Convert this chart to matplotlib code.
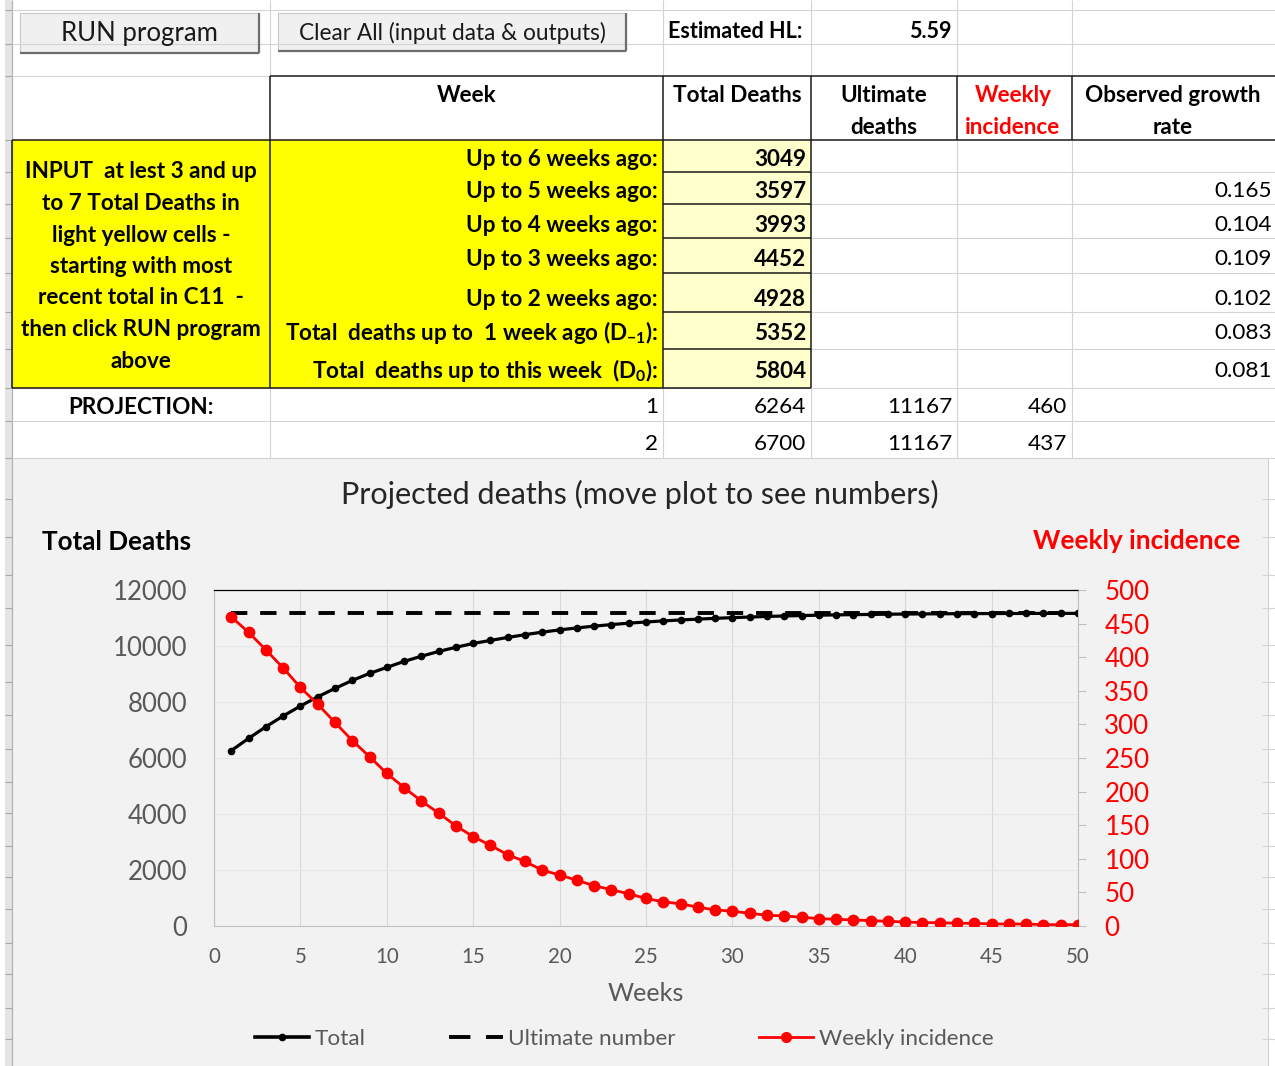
import matplotlib.pyplot as plt
import matplotlib.patches as mpatches
from matplotlib.lines import Line2D

plt.rcParams['font.family'] = ['Lato', 'DejaVu Sans']
plt.rcParams['mathtext.fontset'] = 'custom'
plt.rcParams['mathtext.rm'] = 'Lato:bold'
plt.rcParams['mathtext.bf'] = 'Lato:bold'
plt.rcParams['mathtext.it'] = 'Lato:bold'

# ---- sheet data ----
estimated_hl = 5.59
input_labels = ['Up to 6 weeks ago:', 'Up to 5 weeks ago:', 'Up to 4 weeks ago:',
                'Up to 3 weeks ago:', 'Up to 2 weeks ago:',
                r'Total  deaths up to  1 week ago (D$_{\mathrm{-1}}$):',
                r'Total  deaths up to this week  (D$_{\mathrm{0}}$):']
input_totals = [3049, 3597, 3993, 4452, 4928, 5352, 5804]
growth_rates = [None, 0.165, 0.104, 0.109, 0.102, 0.083, 0.081]
instructions = ['INPUT  at lest 3 and up', 'to 7 Total Deaths in', 'light yellow cells -',
                'starting with most', 'recent total in C11  -', 'then click RUN program', 'above']
ultimate_deaths = 11167

# ---- projection ----
weeks = list(range(1, 51))
total_deaths = [6264, 6700, 7115, 7500, 7855, 8185, 8485, 8770, 9020, 9235,
                9450, 9635, 9805, 9955, 10090, 10200, 10305, 10405, 10495, 10575,
                10645, 10710, 10765, 10815, 10858, 10895, 10930, 10960, 10988, 11012,
                11035, 11055, 11072, 11087, 11100, 11111, 11120, 11128, 11135, 11141,
                11146, 11150, 11154, 11157, 11159, 11161, 11163, 11164, 11165, 11166]
weekly_incidence = [460, 437, 411, 384, 355, 330, 303, 276, 252, 227,
                    206, 186, 168, 149, 133, 120, 106, 96, 83, 76,
                    68, 60, 54, 48, 41, 36, 33, 28, 24, 22,
                    19, 16, 15, 13, 11, 10, 9, 8, 7, 6,
                    5, 5, 4, 4, 3, 3, 3, 2, 2, 2]

W, H = 1275, 1066
fig = plt.figure(figsize=(W / 100, H / 100), dpi=100)
fig.patch.set_facecolor('white')

# sheet drawn in pixel coordinates
bg = fig.add_axes([0, 0, 1, 1])
bg.set_xlim(0, W)
bg.set_ylim(H, 0)
bg.axis('off')

GRID = '#d4d4d4'


def hline(y, x0, x1, c=GRID, lw=0.8):
    bg.plot([x0, x1], [y, y], color=c, lw=lw, solid_capstyle='butt')


def vline(x, y0, y1, c=GRID, lw=0.8):
    bg.plot([x, x], [y0, y1], color=c, lw=lw, solid_capstyle='butt')


def box(x0, y0, x1, y1, fc, ec='none', lw=0.8):
    bg.add_patch(mpatches.Rectangle((x0, y0), x1 - x0, y1 - y0, facecolor=fc,
                                    edgecolor=ec, lw=lw))


cols = [12, 270, 663, 811, 957, 1072, 1275]
rows = [10, 44, 76, 140, 172, 204, 238, 273, 312, 349, 388, 421, 458]

# row header strip
box(5, 0, 12, H, '#e4e4e4')
vline(12, 0, H, '#b4b4b4', 0.9)
chart_rows = [499, 537, 575, 608, 645, 682, 715, 749, 782, 813, 846, 877, 909, 943, 974, 1008, 1039]
for y in rows + chart_rows:
    hline(y, 5, 12, '#a8a8a8', 0.8)

# light grid of the sheet (top rows)
for y in rows[:2]:
    hline(y, 12, W)
hline(76, 12, 270)
for x in cols[1:6]:
    vline(x, 0, 76)

# yellow block
box(12, 140, 270, 388, '#ffff00')
box(270, 140, 663, 388, '#ffff00')
for r0, r1 in zip(rows[3:10], rows[4:11]):
    box(663, r0, 811, r1, '#ffffcc')

# light grid of white cells
for y in rows[4:10]:
    hline(y, 811, W)
for y in rows[10:]:
    hline(y, 12, W)
for x in cols[4:6]:
    vline(x, 140, 458)
for x in cols[1:4]:
    vline(x, 388, 458)

# black borders
BL = '#1a1a1a'
hline(76, 270, W, BL, 1.1)
hline(140, 12, W, BL, 1.1)
for x in cols[1:6]:
    vline(x, 76, 140, BL, 1.1)
vline(12, 140, 388, BL, 1.1)
vline(270, 140, 388, BL, 1.1)
vline(663, 140, 388, BL, 1.1)
vline(811, 140, 388, BL, 1.1)
hline(388, 12, 811, BL, 1.1)
for y in rows[4:10]:
    hline(y, 663, 811, BL, 1.1)


# buttons
def button(x0, y0, x1, y1, label, size):
    box(x0, y0, x1, y1, '#f0f0f0', '#c8c8c8', 0.8)
    hline(y1, x0, x1, '#6e6e6e', 1.6)
    vline(x1, y0, y1, '#6e6e6e', 1.6)
    bg.text((x0 + x1) / 2, (y0 + y1) / 2 + 1, label, ha='center', va='center',
            fontsize=size, color='#1a1a1a')


button(20, 13, 259, 53, 'RUN program', 18.5)
button(278, 13, 626, 51, 'Clear All (input data & outputs)', 16.3)

TS = 16.2
bg.text(668, 31, 'Estimated HL:', ha='left', va='center', fontsize=15.5, fontweight='bold')
bg.text(952, 31, f'{estimated_hl:.2f}', ha='right', va='center', fontsize=15.5, fontweight='bold')

# header row
bg.text(467, 96, 'Week', ha='center', va='center', fontsize=TS, fontweight='bold')
bg.text(737, 96, 'Total Deaths', ha='center', va='center', fontsize=TS, fontweight='bold')
bg.text(884, 96, 'Ultimate', ha='center', va='center', fontsize=TS, fontweight='bold')
bg.text(884, 127, 'deaths', ha='center', va='center', fontsize=TS, fontweight='bold')
bg.text(1013, 96, 'Weekly', ha='center', va='center', fontsize=TS, fontweight='bold', color='red')
bg.text(1013, 127, 'incidence', ha='center', va='center', fontsize=TS, fontweight='bold', color='red')
bg.text(1173, 96, 'Observed growth', ha='center', va='center', fontsize=TS, fontweight='bold')
bg.text(1173, 127, 'rate', ha='center', va='center', fontsize=TS, fontweight='bold')

# input rows
row_text_y = [159, 191, 225, 259, 299, 333, 371]
for y, lab, val, g in zip(row_text_y, input_labels, input_totals, growth_rates):
    bg.text(658, y, lab, ha='right', va='center', fontsize=TS, fontweight='bold')
    bg.text(806, y, str(val), ha='right', va='center', fontsize=TS, fontweight='bold')
    if g is not None:
        bg.text(1272, y, f'{g:.3f}', ha='right', va='center', fontsize=TS)

for i, line in enumerate(instructions):
    bg.text(141, 172 + i * 31.5, line, ha='center', va='center', fontsize=TS, fontweight='bold')

# projection rows
bg.text(141, 407, 'PROJECTION:', ha='center', va='center', fontsize=TS, fontweight='bold')
for y, wk, tot, inc in zip([407, 444], weeks[:2], total_deaths[:2], weekly_incidence[:2]):
    bg.text(658, y, str(wk), ha='right', va='center', fontsize=TS)
    bg.text(806, y, str(tot), ha='right', va='center', fontsize=TS)
    bg.text(952, y, str(ultimate_deaths), ha='right', va='center', fontsize=TS)
    bg.text(1067, y, str(inc), ha='right', va='center', fontsize=TS)

# chart area
box(12, 458, 1268, H, '#f2f2f2')
vline(1268, 458, H, '#d0d0d0')
for y in chart_rows:
    hline(y, 1262, W, '#d4d4d4')

bg.text(640, 494, 'Projected deaths (move plot to see numbers)', ha='center', va='center',
        fontsize=22, color='#262626')
bg.text(42, 542, 'Total Deaths', ha='left', va='center', fontsize=18.7, fontweight='bold',
        color='black')
bg.text(1240, 541, 'Weekly incidence', ha='right', va='center', fontsize=18.8,
        fontweight='bold', color='red')

ax = fig.add_axes([214 / W, 1 - 926 / H, (1078 - 214) / W, (926 - 590) / H])
ax.set_facecolor('none')
ax.set_xlim(0, 50)
ax.set_ylim(0, 12000)
ax.set_xticks(range(0, 51, 5))
ax.set_yticks(range(0, 12001, 2000))
ax.grid(axis='x', color='#d9d9d9', lw=0.8)
ax.grid(axis='y', color='#e6e6e6', lw=0.8)
ax.set_axisbelow(True)
for side in ['left', 'bottom', 'right']:
    ax.spines[side].set_color('#bfbfbf')
    ax.spines[side].set_linewidth(0.8)
ax.spines['top'].set_color('black')
ax.spines['top'].set_linewidth(0.9)
ax.tick_params(axis='y', length=0, pad=19, labelsize=18.5, labelcolor='#595959')
ax.tick_params(axis='x', length=0, pad=15, labelsize=14.8, labelcolor='#595959')
ax.set_xlabel('Weeks', fontsize=18.2, color='#595959', labelpad=11)

ax.plot(weeks, total_deaths, color='black', lw=2.3, marker='o', ms=4.5)
ax.plot(weeks, [ultimate_deaths] * len(weeks), color='black', lw=2.8, dashes=(4.2, 3.3))

ax2 = ax.twinx()
ax2.set_ylim(0, 500)
ax2.set_yticks(range(0, 501, 50))
for side in ['left', 'bottom', 'right', 'top']:
    ax2.spines[side].set_visible(False)
ax2.tick_params(axis='y', length=6, width=0.8, color='#bfbfbf', pad=13, labelsize=18.7,
                labelcolor='red')
ax2.plot(weeks, weekly_incidence, color='red', lw=2.0, marker='o', ms=7.5)

# legend proxies
h_total = Line2D([], [], color='black', lw=2.6, marker='o', ms=4.5)
h_ult = Line2D([], [], color='black', lw=2.8, dashes=(5.5, 4))
h_inc = Line2D([], [], color='red', lw=2.0, marker='o', ms=7)
fig.legend(handles=[h_total, h_ult, h_inc],
           labels=['Total', 'Ultimate number', 'Weekly incidence'], loc='center', ncol=3,
           bbox_to_anchor=(624 / W, 1 - 1039 / H), frameon=False, fontsize=16.2,
           handlelength=2.4, handletextpad=0.25, columnspacing=3.7, labelcolor='#595959')

fig.savefig('out.png', dpi=100, facecolor='white')
